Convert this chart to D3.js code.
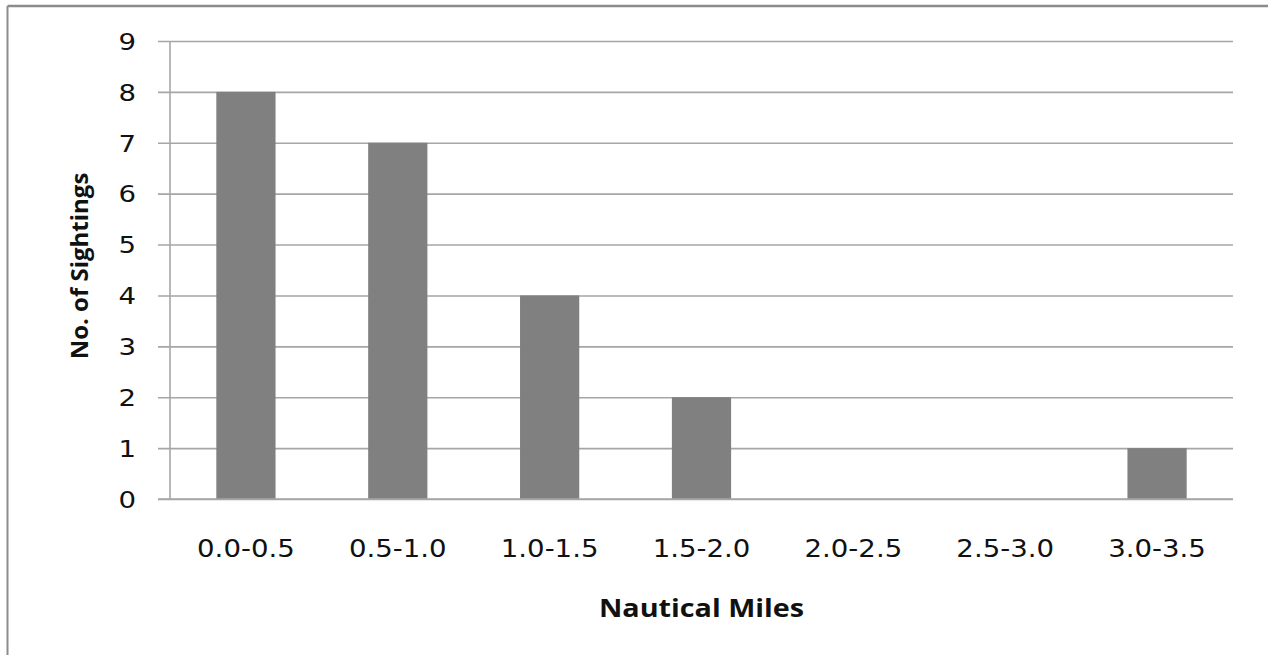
<!DOCTYPE html>
<html><head><meta charset="utf-8">
<script src="https://cdn.jsdelivr.net/npm/d3@7"></script>
<style>
html,body{margin:0;padding:0;background:#fff;}
svg{display:block;}
</style>
</head><body>
<svg id="chart" width="1268" height="655"></svg>
<script>
const categories = ["0.0-0.5","0.5-1.0","1.0-1.5","1.5-2.0","2.0-2.5","2.5-3.0","3.0-3.5"];
const sightings = [8, 7, 4, 2, 0, 0, 1];
const yTicks = [0,1,2,3,4,5,6,7,8,9];
const xTitle = "Nautical Miles";
const yTitle = "No. of Sightings";

const svg = d3.select("#chart");
const margin = {left:170, right:35, top:41, bottom:156};
const W = 1268, H = 655;

// outer frame (top and left edges visible)
svg.append("line").attr("x1",7.5).attr("x2",W).attr("y1",6).attr("y2",6)
  .attr("stroke","#8c8c8c").attr("stroke-width",2.5);
svg.append("line").attr("x1",7.5).attr("x2",7.5).attr("y1",6).attr("y2",H)
  .attr("stroke","#8c8c8c").attr("stroke-width",2);

const x = d3.scaleBand().domain(categories).range([margin.left, W-margin.right]).paddingInner(0.61).paddingOuter(0.305);
const y = d3.scaleLinear().domain([0,9]).range([H-margin.bottom, margin.top]);

// gridlines + y ticks
const yAxis = d3.axisLeft(y).tickValues(yTicks).tickSize(-(W-margin.right-margin.left)).tickFormat(d3.format("d"));
const gy = svg.append("g").attr("transform",`translate(${margin.left},0)`).call(yAxis);
gy.select(".domain").remove();
gy.selectAll(".tick line").attr("x1",-12).attr("stroke","#a6a6a6").attr("stroke-width",1.6);
gy.selectAll(".tick text").attr("font-family","DejaVu Sans").attr("font-size",23).attr("fill","#111")
  .attr("x",0).attr("text-anchor","end").attr("dy","0.36em")
  .attr("transform","translate(-34,0) scale(1.2,1)");

// vertical axis line
svg.append("line").attr("x1",margin.left).attr("x2",margin.left).attr("y1",y(9)).attr("y2",y(0))
  .attr("stroke","#a6a6a6").attr("stroke-width",1.6);

// bars
svg.append("g").selectAll("rect").data(categories).join("rect")
  .attr("x", d=>x(d)).attr("width", x.bandwidth())
  .attr("y", (d,i)=>y(sightings[i])).attr("height", (d,i)=>y(0)-y(sightings[i]))
  .attr("fill","#808080");

// x axis
svg.append("line").attr("x1",margin.left-12).attr("x2",W-margin.right).attr("y1",y(0)).attr("y2",y(0))
  .attr("stroke","#a6a6a6").attr("stroke-width",1.6);
const gx = svg.append("g").attr("transform",`translate(0,${y(0)})`).call(d3.axisBottom(x).tickSize(0));
gx.select(".domain").remove();
gx.selectAll(".tick text").attr("font-family","DejaVu Sans").attr("font-size",24).attr("fill","#111")
  .attr("y",58).attr("dy","0").attr("transform","scale(1.15,1)");

// axis titles
svg.append("text").attr("transform",`translate(${(margin.left + W-margin.right)/2},617) scale(1.15,1)`)
  .attr("text-anchor","middle").attr("font-family","Open Sans").attr("font-weight","bold")
  .attr("font-size",25).attr("fill","#111").text(xTitle);
svg.append("text").attr("transform",`translate(88,266) rotate(-90)`)
  .attr("text-anchor","middle").attr("font-family","Open Sans").attr("font-weight","bold")
  .attr("font-size",24).attr("fill","#111").text(yTitle);
</script>
</body></html>
